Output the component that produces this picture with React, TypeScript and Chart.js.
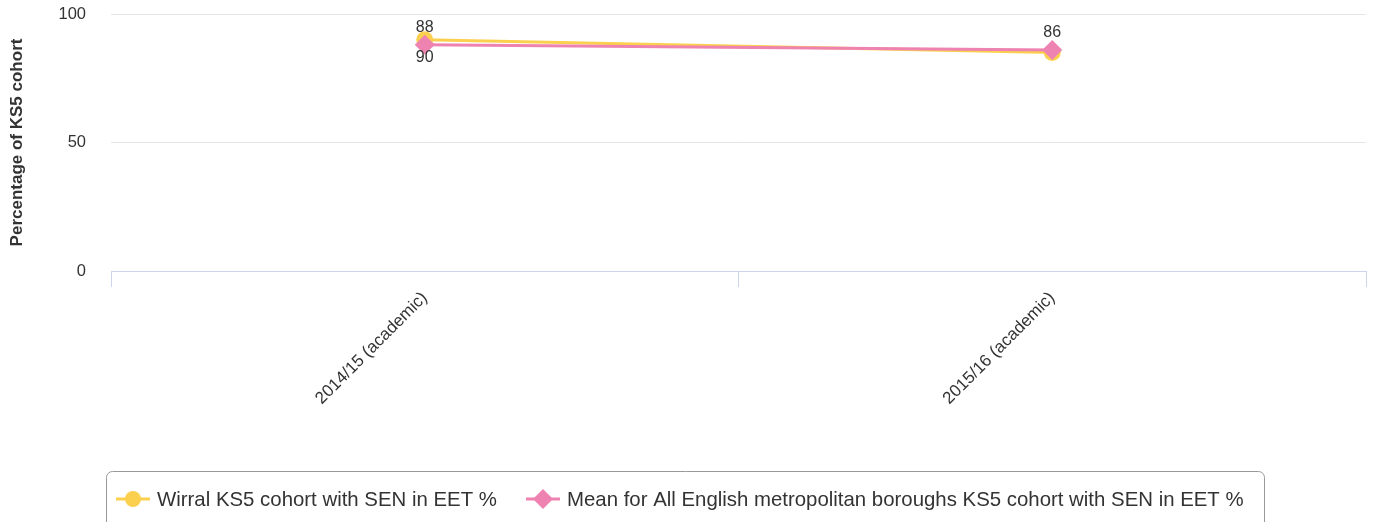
import React, { useEffect, useRef } from "react";
import { Chart, registerables } from "chart.js";

Chart.register(...registerables);

const categories = ["2014/15 (academic)", "2015/16 (academic)"];
const wirralValues = [90, 85];
const meanValues = [88, 86];
const wirralLabel = "Wirral KS5 cohort with SEN in EET %";
const meanLabel = "Mean for All English metropolitan boroughs KS5 cohort with SEN in EET %";
// where each data label is drawn relative to its point
const wirralLabelPos = ["below", "hidden"];
const meanLabelPos = ["above", "above"];
const yTicks = [0, 50, 100];

const YELLOW = "#fcd04f";
const PINK = "#ee82b0";
const FONT = "'Liberation Sans', Arial, sans-serif";

const dataLabelPlugin = {
  id: "dataLabels",
  afterDatasetsDraw(chart: any) {
    const ctx = chart.ctx;
    ctx.save();
    ctx.font = `16px ${FONT}`;
    ctx.fillStyle = "#333333";
    ctx.textAlign = "center";
    ctx.textBaseline = "middle";
    chart.data.datasets.forEach((ds: any, di: number) => {
      const meta = chart.getDatasetMeta(di);
      meta.data.forEach((pt: any, i: number) => {
        const pos = ds.labelPos[i];
        if (pos === "hidden") return;
        const y = pos === "above" ? pt.y - 17 : pt.y + 18;
        ctx.fillText(String(ds.data[i]), pt.x, y);
      });
    });
    ctx.restore();
  },
};

const legendPlugin = {
  id: "boxLegend",
  afterDraw(chart: any) {
    const ctx = chart.ctx;
    ctx.save();
    const bx = 106.5, by = 471.5, bw = 1158, bh = 70, r = 6;
    ctx.strokeStyle = "#999999";
    ctx.lineWidth = 1;
    ctx.beginPath();
    ctx.moveTo(bx + r, by);
    ctx.lineTo(bx + bw - r, by);
    ctx.arcTo(bx + bw, by, bx + bw, by + r, r);
    ctx.lineTo(bx + bw, by + bh);
    ctx.moveTo(bx, by + bh);
    ctx.lineTo(bx, by + r);
    ctx.arcTo(bx, by, bx + r, by, r);
    ctx.stroke();

    const cy = 499;
    const items = [
      { cx: 133, color: YELLOW, shape: "circle" },
      { cx: 543, color: PINK, shape: "diamond" },
    ];
    ctx.font = `20.4px ${FONT}`;
    ctx.textBaseline = "middle";
    ctx.textAlign = "left";
    chart.data.datasets.forEach((ds: any, i: number) => {
      const it = items[i];
      ctx.strokeStyle = it.color;
      ctx.lineWidth = 3;
      ctx.beginPath();
      ctx.moveTo(it.cx - 17, cy);
      ctx.lineTo(it.cx + 17, cy);
      ctx.stroke();
      ctx.fillStyle = it.color;
      ctx.beginPath();
      if (it.shape === "circle") {
        ctx.arc(it.cx, cy, 8, 0, Math.PI * 2);
      } else {
        const d = 10;
        ctx.moveTo(it.cx, cy - d);
        ctx.lineTo(it.cx + d, cy);
        ctx.lineTo(it.cx, cy + d);
        ctx.lineTo(it.cx - d, cy);
        ctx.closePath();
      }
      ctx.fill();
      ctx.fillStyle = "#333333";
      ctx.fillText(ds.label, it.cx + 24, cy + 1);
    });
    ctx.restore();
  },
};

export default function App() {
  const ref = useRef<HTMLCanvasElement | null>(null);
  useEffect(() => {
    if (!ref.current) return;
    Chart.defaults.font.family = FONT;
    const chart = new Chart(ref.current, {
      type: "line",
      data: {
        labels: categories,
        datasets: [
          {
            label: wirralLabel,
            data: wirralValues,
            borderColor: YELLOW,
            backgroundColor: YELLOW,
            borderWidth: 3,
            pointStyle: "circle",
            pointRadius: 8.5,
            pointBorderWidth: 0,
            order: 1,
            labelPos: wirralLabelPos,
          } as any,
          {
            label: meanLabel,
            data: meanValues,
            borderColor: PINK,
            backgroundColor: PINK,
            borderWidth: 3,
            pointStyle: "rectRot",
            pointRadius: 10,
            pointBorderWidth: 0,
            order: 0,
            labelPos: meanLabelPos,
          } as any,
        ],
      },
      options: {
        responsive: false,
        animation: false,
        layout: { autoPadding: false, padding: { top: 14, right: 7, left: 0, bottom: 0 } },
        plugins: {
          legend: { display: false },
          tooltip: { enabled: false },
        },
        scales: {
          x: {
            offset: true,
            grid: {
              display: true,
              drawOnChartArea: false,
              drawTicks: true,
              tickLength: 16,
              color: "#ccd6eb",
              offset: true,
            },
            border: { display: true, color: "#ccd6eb", width: 1 },
            ticks: {
              minRotation: 45,
              maxRotation: 45,
              color: "#333333",
              font: { size: 17 },
              padding: 1,
            },
            afterFit(scale: any) {
              scale.height = 251;
              scale.paddingTop = 0;
              scale.paddingBottom = 0;
              scale.paddingRight = 0;
            },
          },
          y: {
            min: 0,
            max: 100,
            afterBuildTicks(scale: any) {
              scale.ticks = yTicks.map((v) => ({ value: v }));
            },
            grid: { color: "#e6e6e6", drawTicks: false, lineWidth: 1 },
            border: { display: false },
            ticks: { color: "#333333", font: { size: 16.5 }, padding: 25 },
            title: {
              display: true,
              text: "Percentage of KS5 cohort",
              color: "#333333",
              font: { size: 17, weight: "bold" },
              padding: { top: 7, bottom: 0 },
            },
            afterFit(scale: any) {
              scale.width = 111;
              scale.paddingTop = 0;
              scale.paddingBottom = 0;
            },
          },
        },
      },
      plugins: [dataLabelPlugin, legendPlugin],
    });
    return () => chart.destroy();
  }, []);
  return (
    <canvas
      ref={ref}
      width={1373}
      height={522}
      style={{ position: "fixed", left: 0, top: 0, width: 1373, height: 522 }}
    />
  );
}
